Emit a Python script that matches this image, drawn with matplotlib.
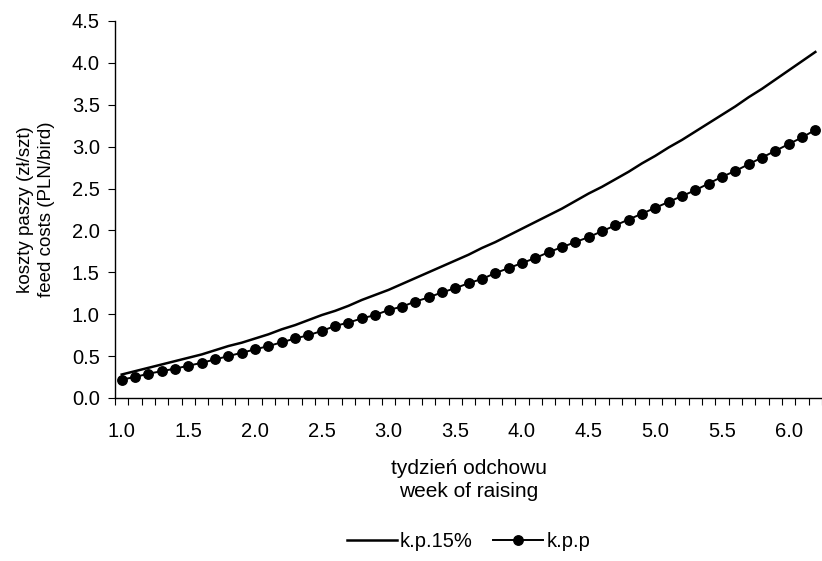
import numpy as np
import matplotlib.pyplot as plt

plt.rcParams["font.family"] = ["Liberation Sans", "DejaVu Sans"]

# tydzień odchowu: 1.0 ... 6.2 co 0.1
tygodnie = [round(1.0 + 0.1 * i, 1) for i in range(53)]

# k.p.15% (odczyt z wykresu)
kp15 = [0.28, 0.32, 0.36, 0.40, 0.44, 0.48, 0.52, 0.57, 0.62, 0.66,
        0.71, 0.76, 0.82, 0.87, 0.93, 0.99, 1.04, 1.10, 1.17, 1.23,
        1.29, 1.36, 1.43, 1.50, 1.57, 1.64, 1.71, 1.79, 1.86, 1.94,
        2.02, 2.10, 2.18, 2.26, 2.35, 2.44, 2.52, 2.61, 2.70, 2.80,
        2.89, 2.99, 3.08, 3.18, 3.28, 3.38, 3.48, 3.59, 3.69, 3.80,
        3.91, 4.02, 4.13]

# k.p.p (odczyt z wykresu)
kpp = [0.22, 0.25, 0.29, 0.32, 0.35, 0.385, 0.42, 0.46, 0.50, 0.54,
       0.58, 0.62, 0.665, 0.71, 0.75, 0.80, 0.86, 0.90, 0.95, 0.99,
       1.05, 1.09, 1.15, 1.20, 1.26, 1.31, 1.37, 1.42, 1.49, 1.55,
       1.61, 1.67, 1.74, 1.80, 1.86, 1.92, 1.99, 2.06, 2.13, 2.20,
       2.27, 2.34, 2.41, 2.48, 2.56, 2.64, 2.71, 2.79, 2.87, 2.95,
       3.03, 3.11, 3.20]

x = np.arange(len(tygodnie))

fig = plt.figure(figsize=(8.22, 5.61), dpi=100)
ax = fig.add_axes([0.140, 0.2906, 0.860, 0.672])

ax.plot(x, kp15, color="black", linewidth=1.8, label="k.p.15%")
ax.plot(x, kpp, color="black", linewidth=1.4, marker="o", markersize=6.8,
        label="k.p.p")

ax.set_xlim(-0.5, len(tygodnie) - 0.5)
ax.set_ylim(0, 4.5)
ax.set_yticks(np.arange(0, 4.51, 0.5))
ax.set_yticklabels([f"{v:.1f}" for v in np.arange(0, 4.51, 0.5)])

# podziałki między kategoriami, etykiety co 5
ax.set_xticks(np.arange(-0.5, len(tygodnie), 1))
ax.set_xticklabels([])
ax.set_xticks(x[::5], minor=True)
ax.set_xticklabels([f"{tygodnie[i]:.1f}" for i in x[::5]], minor=True)
ax.tick_params(axis="x", which="major", length=5, width=0.8, direction="out")
ax.tick_params(axis="x", which="minor", length=0, pad=17, labelsize=14.5)
ax.tick_params(axis="y", length=5, width=0.8, direction="out", labelsize=14.5, pad=6)

for s in ["top", "right"]:
    ax.spines[s].set_visible(False)
for s in ["left", "bottom"]:
    ax.spines[s].set_linewidth(1.0)

ax.set_ylabel("koszty paszy (zł/szt)\nfeed costs (PLN/bird)", fontsize=13.5,
              linespacing=1.3, labelpad=12)
ax.set_xlabel("tydzień odchowu\nweek of raising", fontsize=15,
              linespacing=1.3, labelpad=13)

fig.legend(loc="center", bbox_to_anchor=(0.57, 0.035), ncol=2, frameon=False,
           fontsize=14.5, handlelength=2.5, handletextpad=0.15, columnspacing=1.0)

fig.savefig("out.png", dpi=100)
